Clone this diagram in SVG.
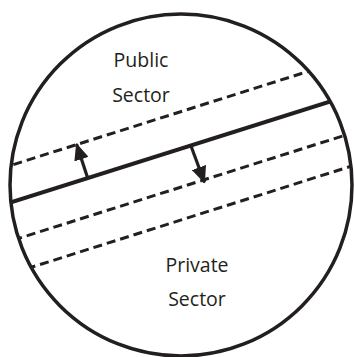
<svg xmlns="http://www.w3.org/2000/svg" width="354" height="357" viewBox="0 0 354 357">
  <style>
    .ring { fill: none; stroke: #231f20; stroke-width: 3.5; }
    .divide { stroke: #231f20; stroke-width: 4; fill: none; }
    .shift { stroke: #231f20; stroke-width: 3; stroke-dasharray: 9 5; fill: none; }
    .arrow { stroke: #231f20; stroke-width: 3.2; fill: none; }
    .label { font-family: "Open Sans", "Noto Sans", sans-serif; font-size: 19.5px; fill: #231f20; text-anchor: middle; }
  </style>
  <defs>
    <clipPath id="inside">
      <circle cx="181" cy="185" r="171"/>
    </clipPath>
    <marker id="head" viewBox="0 0 17 15" refX="16" refY="7.5" markerWidth="17" markerHeight="15" markerUnits="userSpaceOnUse" orient="auto">
      <path d="M0,0 L17,7.5 L0,15 Z" fill="#231f20"/>
    </marker>
  </defs>

  <g id="connectors" clip-path="url(#inside)">
    <!-- boundary between sectors -->
    <line class="divide" x1="0" y1="205.8" x2="354" y2="93.9"/>
    <!-- shifted boundaries -->
    <line class="shift" x1="0" y1="168.8" x2="354" y2="56.9"/>
    <line class="shift" x1="0" y1="244.3" x2="354" y2="132.4"/>
    <line class="shift" x1="0" y1="277.2" x2="354" y2="165.3"/>
    <!-- shift arrows -->
    <line class="arrow" x1="88" y1="179" x2="76.5" y2="144" marker-end="url(#head)"/>
    <line class="arrow" x1="191" y1="146" x2="204.5" y2="182.5" marker-end="url(#head)"/>
  </g>

  <g id="circle">
    <circle class="ring" cx="181" cy="185" r="171"/>
  </g>

  <g id="public-sector">
    <text class="label" x="141" y="67">Public</text>
    <text class="label" x="141" y="102">Sector</text>
  </g>

  <g id="private-sector">
    <text class="label" x="197" y="272">Private</text>
    <text class="label" x="197" y="306">Sector</text>
  </g>
</svg>
